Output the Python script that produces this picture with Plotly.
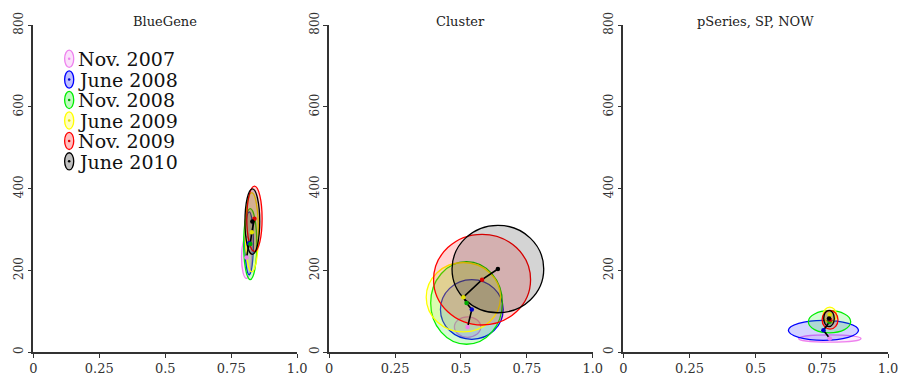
import plotly.graph_objects as go

# ---------------- data ----------------
eras = ["Nov. 2007", "June 2008", "Nov. 2008", "June 2009", "Nov. 2009", "June 2010"]
era_colors = ["#EE82EE", "#0000FF", "#00EE00", "#FFFF00", "#FF0000", "#000000"]
dot_colors = ["#EE82EE", "#0000CC", "#00AA00", "#E0E000", "#DD0000", "#000000"]

panel_titles = ["BlueGene", "Cluster", "pSeries, SP, NOW"]

# centre (mean) and spread of each era, per architecture
bluegene_x = [0.808, 0.818, 0.822, 0.828, 0.838, 0.830]
bluegene_y = [231, 266, 264, 293, 326, 319]
bluegene_sx = [0.019, 0.016, 0.025, 0.025, 0.029, 0.028]
bluegene_sy = [51, 77, 87, 97, 80, 80]

cluster_x = [0.525, 0.541, 0.521, 0.509, 0.580, 0.640]
cluster_y = [61, 104, 120, 134, 177, 203]
cluster_sx = [0.050, 0.119, 0.136, 0.141, 0.184, 0.174]
cluster_sy = [25, 73, 101, 85, 111, 107]

pseries_x = [0.780, 0.756, 0.779, 0.780, 0.781, 0.777]
pseries_y = [33, 53, 74, 91, 79, 82]
pseries_sx = [0.118, 0.1325, 0.080, 0.025, 0.030, 0.020]
pseries_sy = [9, 24.5, 27, 19, 23, 20]

x_tickvals = [0, 0.25, 0.5, 0.75, 1.0]
x_ticktext = ["0", "0.25", "0.5", "0.75", "1.0"]
y_tickvals = [0, 200, 400, 600, 800]
y_ticktext = ["0", "200", "400", "600", "800"]

# ---------------- layout geometry ----------------
W, H = 910, 388
ML, MR, MT, MB = 27, 18, 22, 24
PW = W - ML - MR
PH = H - MT - MB
panel_px = [(27.3, 294.3), (326.7, 593.3), (624.3, 892.3)]
domains = [[(a - ML) / PW, min(1.0, (b - ML) / PW)] for a, b in panel_px]


def px2paper_x(px):
    return (px - ML) / PW


def px2paper_y(py):
    return (H - MB - py) / PH


def rgba(hexc, a):
    h = hexc.lstrip("#")
    r, g, b = int(h[0:2], 16), int(h[2:4], 16), int(h[4:6], 16)
    return f"rgba({r},{g},{b},{a})"


fig = go.Figure()
shapes = []
annotations = []

panels = [
    (bluegene_x, bluegene_y, bluegene_sx, bluegene_sy),
    (cluster_x, cluster_y, cluster_sx, cluster_sy),
    (pseries_x, pseries_y, pseries_sx, pseries_sy),
]

FONT = "DejaVu Serif"

for p, (cx, cy, sx, sy) in enumerate(panels):
    xr = "x" if p == 0 else f"x{p+1}"
    yr = "y" if p == 0 else f"y{p+1}"
    for i in range(len(eras)):
        shapes.append(dict(
            type="circle", xref=xr, yref=yr, layer="below",
            x0=cx[i] - sx[i], x1=cx[i] + sx[i],
            y0=cy[i] - sy[i], y1=cy[i] + sy[i],
            fillcolor=rgba(era_colors[i], 0.17),
            line=dict(color=era_colors[i], width=1.3),
        ))
    fig.add_trace(go.Scatter(
        x=cx, y=cy, mode="lines+markers", xaxis=xr, yaxis=yr,
        line=dict(color="black", width=1.6),
        marker=dict(color=dot_colors, size=4.5),
        showlegend=False, hoverinfo="skip",
    ))
    annotations.append(dict(
        text=panel_titles[p], xref="paper", yref="paper",
        x=(domains[p][0] + domains[p][1]) / 2, y=px2paper_y(18),
        xanchor="center", yanchor="middle", showarrow=False,
        font=dict(family=FONT, size=13, color="#222"),
    ))

# ---------------- legend (drawn manually) ----------------
leg_y = [57.3, 79.0, 100.4, 121.8, 143.2, 164.6]
icon_cx, icon_hw, icon_hh = 63.6, 4.6, 9.0
for i, name in enumerate(eras):
    yc = leg_y[i]
    shapes.append(dict(
        type="circle", xref="paper", yref="paper", layer="above",
        x0=px2paper_x(icon_cx - icon_hw), x1=px2paper_x(icon_cx + icon_hw),
        y0=px2paper_y(yc + icon_hh), y1=px2paper_y(yc - icon_hh),
        fillcolor=rgba(era_colors[i], 0.25),
        line=dict(color=era_colors[i], width=1.3),
    ))
    shapes.append(dict(
        type="circle", xref="paper", yref="paper", layer="above",
        x0=px2paper_x(icon_cx - 1.3), x1=px2paper_x(icon_cx + 1.3),
        y0=px2paper_y(yc + 1.3), y1=px2paper_y(yc - 1.3),
        fillcolor=dot_colors[i], line=dict(width=0),
    ))
    annotations.append(dict(
        text=name, xref="paper", yref="paper",
        x=px2paper_x(70), y=px2paper_y(yc + 0.5),
        xanchor="left", yanchor="middle", showarrow=False,
        font=dict(family=FONT, size=19, color="#111"),
    ))

axis_common = dict(
    showgrid=False, zeroline=False, showline=True, linecolor="#333",
    linewidth=1.5, ticks="outside", ticklen=4, tickwidth=1.3, tickcolor="#333",
    mirror=False,
)

layout = dict(
    width=W, height=H,
    margin=dict(l=ML, r=MR, t=MT, b=MB, pad=0),
    paper_bgcolor="white", plot_bgcolor="white",
    shapes=shapes, annotations=annotations, showlegend=False,
)
for p in range(3):
    xk = "xaxis" if p == 0 else f"xaxis{p+1}"
    yk = "yaxis" if p == 0 else f"yaxis{p+1}"
    xa = "x" if p == 0 else f"x{p+1}"
    ya = "y" if p == 0 else f"y{p+1}"
    layout[xk] = dict(
        axis_common, domain=domains[p], range=[0, 1], anchor=ya,
        tickvals=x_tickvals, ticktext=x_ticktext,
        tickfont=dict(family=FONT, size=13, color="#333"),
    )
    layout[yk] = dict(
        axis_common, domain=[0, 1], range=[0, 800], anchor=xa,
        tickvals=y_tickvals, ticktext=y_ticktext, tickangle=-90,
        tickfont=dict(family=FONT, size=12, color="#333"),
    )

fig.update_layout(**layout)
fig.write_html("out.html")
